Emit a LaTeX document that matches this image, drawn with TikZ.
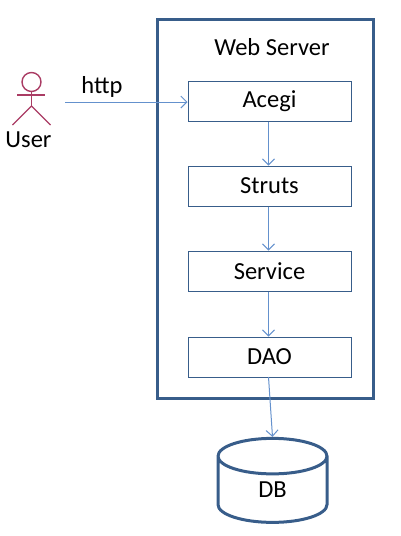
\documentclass[tikz,border=0pt]{standalone}
\usepackage{fontspec}
\setmainfont{Carlito}
\usetikzlibrary{arrows.meta,shapes.geometric}
\definecolor{framecol}{RGB}{56,93,138}
\definecolor{linkcol}{RGB}{100,145,205}
\definecolor{actorcol}{RGB}{170,60,100}
\tikzset{
  layer/.style = {
    draw=framecol,
    line width=1pt,
    minimum width=163pt,
    minimum height=40pt,
    inner sep=0pt,
    font=\fontsize{24.5}{28}\selectfont
  },
  link/.style = {
    draw=linkcol,
    line width=1pt,
    -{Straight Barb[length=6pt,width=12pt,line width=1pt]}
  },
  limb/.style = {
    draw=actorcol,
    line width=1.4pt
  },
  label/.style = {
    inner sep=0pt,
    font=\fontsize{24.5}{28}\selectfont
  }
}

\begin{document}
\begin{tikzpicture}[x=1pt,y=-1pt]
  \useasboundingbox (0,0) rectangle (400,536);
  % web server
  \node[draw=framecol,line width=3pt,minimum width=216pt,minimum height=379pt,inner sep=0pt] (server) at (265,208.5) {};
  \node[label] (title) at (272,47) {Web Server};
  % layers
  \node[layer] (acegi) at (269.5,101) {Acegi};
  \node[layer] (struts) at (269.5,186) {Struts};
  \node[layer] (service) at (269.5,271) {Service};
  \node[layer] (dao) at (269.5,357) {DAO};
  % db
  \node[cylinder,shape border rotate=90,aspect=1.25,draw=framecol,line width=3pt,minimum width=109pt,minimum height=84pt,inner sep=0pt,font=\fontsize{24.5}{28}\selectfont] (db) at (272.5,490) {DB};
  % user
  \node[circle,limb,minimum size=19pt,inner sep=0pt] (head) at (31.5,82) {};
  \coordinate (hip) at (31.5,106);
  \coordinate (larm) at (17,95);
  \coordinate (rarm) at (45,95);
  \coordinate (lfoot) at (12.5,125);
  \coordinate (rfoot) at (50.5,125);
  \draw[limb] (head) -- (hip);
  \draw[limb] (larm) -- (rarm);
  \draw[limb] (lfoot) -- (hip) -- (rfoot);
  \node[label] (user) at (28.5,140) {User};
  \node[label] (http) at (102,87) {http};
  % links
  \coordinate (start) at (65,102);
  \draw[link] (start) -- (start -| acegi.west);
  \foreach \a/\b in {acegi/struts,struts/service,service/dao} {%
    \draw[link] (\a.south -| 268.5,0) -- (\b.north -| 268.5,0);
  }
  \draw[link] (268.5,377) -- (db.north);
\end{tikzpicture}
\end{document}
